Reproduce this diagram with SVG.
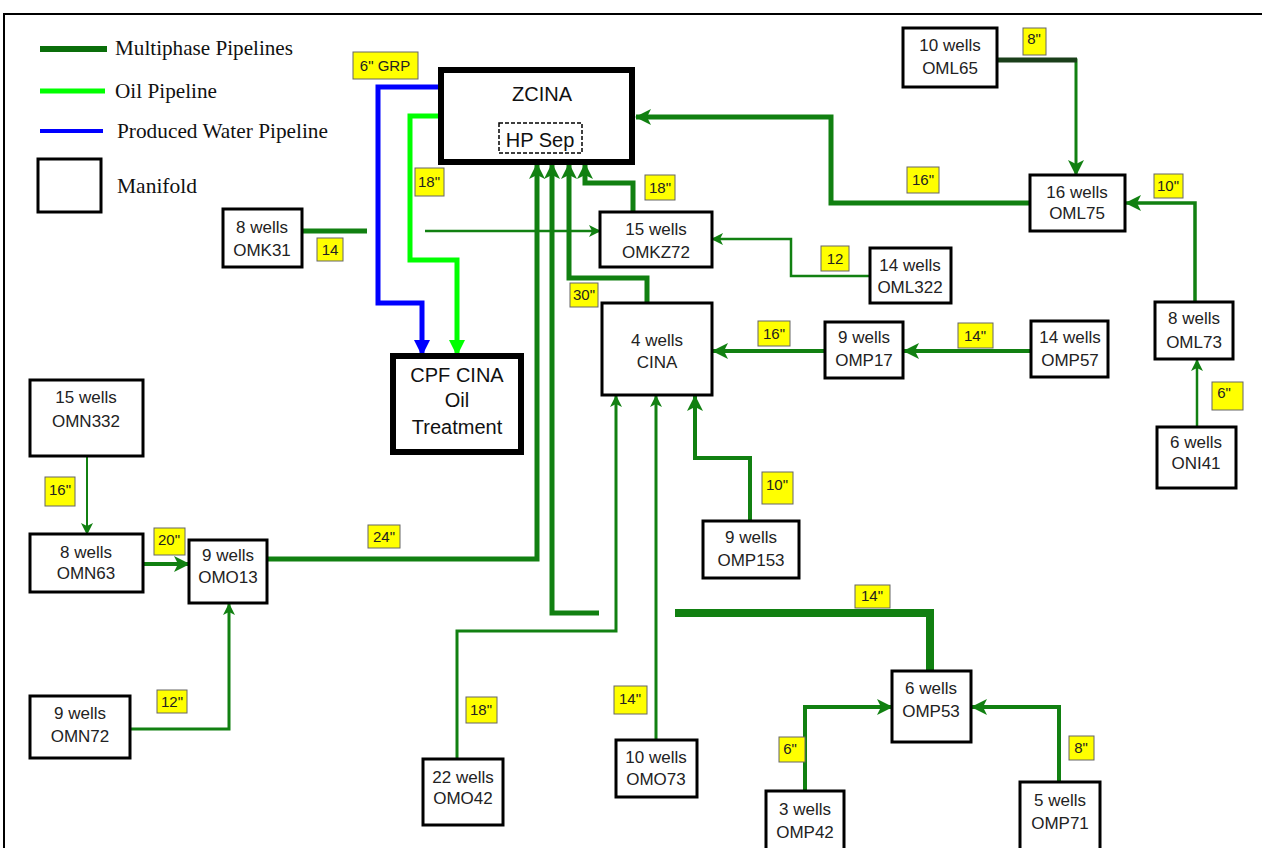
<svg xmlns="http://www.w3.org/2000/svg" width="1262" height="848" viewBox="0 0 1262 848">
<style>
.bg{fill:#fff}
.nb{fill:#fff;stroke:#000;stroke-width:3}
.big{fill:#fff;stroke:#000;stroke-width:6}
.nt{font-family:"Liberation Sans",Arial,sans-serif;font-size:17px;fill:#222;text-anchor:middle}
.bt{font-family:"Liberation Sans",Arial,sans-serif;font-size:20px;fill:#111;text-anchor:middle}
.lg{font-family:"Liberation Serif","Times New Roman",serif;font-size:21px;fill:#111}
.lb{fill:#ffff00;stroke:#666;stroke-width:1}
.lt{font-family:"Liberation Sans",Arial,sans-serif;font-size:15px;fill:#222;text-anchor:middle}
.g{fill:none;stroke:#118011;stroke-linejoin:miter}
</style>
<defs>
<marker id="ag" markerUnits="userSpaceOnUse" markerWidth="16" markerHeight="16" viewBox="0 0 16 16" refX="15" refY="8" orient="auto">
<path d="M0,0 L16,8 L0,16 L4,8 z" fill="#118011"/>
</marker>
<marker id="ags" markerUnits="userSpaceOnUse" markerWidth="12" markerHeight="12" viewBox="0 0 12 12" refX="11" refY="6" orient="auto">
<path d="M0,0 L12,6 L0,12 L3,6 z" fill="#118011"/>
</marker>
<marker id="ab" markerUnits="userSpaceOnUse" markerWidth="16" markerHeight="16" viewBox="0 0 16 16" refX="15" refY="8" orient="auto">
<path d="M0,0 L16,8 L0,16 z" fill="#0000ff"/>
</marker>
<marker id="al" markerUnits="userSpaceOnUse" markerWidth="16" markerHeight="16" viewBox="0 0 16 16" refX="15" refY="8" orient="auto">
<path d="M0,0 L16,8 L0,16 z" fill="#00ff00"/>
</marker>
</defs>
<rect class="bg" x="0" y="0" width="1262" height="848"/>
<path d="M4,848 V14 H1262" fill="none" stroke="#000" stroke-width="2"/>

<g id="legend">
<line x1="40" y1="49" x2="107" y2="49" stroke="#0a6e0a" stroke-width="6"/>
<text class="lg" x="115" y="55" textLength="178" lengthAdjust="spacingAndGlyphs">Multiphase Pipelines</text>
<line x1="40" y1="91" x2="105" y2="91" stroke="#00ff00" stroke-width="5"/>
<text class="lg" x="115" y="98" textLength="102" lengthAdjust="spacingAndGlyphs">Oil Pipeline</text>
<line x1="40" y1="131" x2="103" y2="131" stroke="#0000ff" stroke-width="4"/>
<text class="lg" x="117" y="138" textLength="211" lengthAdjust="spacingAndGlyphs">Produced Water Pipeline</text>
<rect x="38" y="159" width="63" height="53" fill="#fff" stroke="#000" stroke-width="3"/>
<text class="lg" x="117" y="193" textLength="80" lengthAdjust="spacingAndGlyphs">Manifold</text>
</g>

<g id="connectors">
<path d="M441,87 H378 V303 H422 V355" fill="none" stroke="#0000ff" stroke-width="5" marker-end="url(#ab)"/>
<path d="M441,116 H410 V260 H457 V355" fill="none" stroke="#00ff00" stroke-width="5" marker-end="url(#al)"/>
<path class="g" d="M302,231 H367" stroke="#0a6e0a" stroke-width="5"/>
<path class="g" d="M425,231 H600" stroke-width="2.5" marker-end="url(#ags)"/>
<path class="g" d="M870,276 H791 V239 H712" stroke-width="2.5" marker-end="url(#ags)"/>
<path class="g" d="M633,212 V183 H585 V164" stroke-width="5" marker-end="url(#ag)"/>
<path class="g" d="M647,303 V278 H569 V164" stroke-width="5" marker-end="url(#ag)"/>
<path class="g" d="M599,613 H552 V164" stroke-width="5" marker-end="url(#ag)"/>
<path class="g" d="M267,559 H537 V164" stroke-width="5" marker-end="url(#ag)"/>
<path class="g" d="M1030,203 H831 V117 H636" stroke-width="5" marker-end="url(#ag)"/>
<path class="g" d="M997,60 H1076 V175" stroke-width="3" marker-end="url(#ag)"/>
<path d="M997,60 H1077" fill="none" stroke="#1a3f1a" stroke-width="5"/>
<path class="g" d="M1195,302 V203 H1126" stroke-width="3.5" marker-end="url(#ag)"/>
<path class="g" d="M1197,427 V360" stroke-width="2.5" marker-end="url(#ags)"/>
<path class="g" d="M825,351 H713" stroke-width="4" marker-end="url(#ag)"/>
<path class="g" d="M1031,351 H904" stroke-width="4" marker-end="url(#ag)"/>
<path class="g" d="M750,521 V458 H695 V396" stroke-width="4" marker-end="url(#ag)"/>
<path class="g" d="M457,760 V631 H616 V396" stroke-width="3" marker-end="url(#ags)"/>
<path class="g" d="M656,740 V396" stroke-width="3" marker-end="url(#ags)"/>
<path class="g" d="M930,671 V613 H675" stroke-width="8"/>
<path class="g" d="M805,791 V707 H892" stroke-width="4" marker-end="url(#ag)"/>
<path class="g" d="M1059,782 V707 H972" stroke-width="4" marker-end="url(#ag)"/>
<path class="g" d="M87,456 V534" stroke-width="2" marker-end="url(#ags)"/>
<path class="g" d="M143,564 H189" stroke-width="4" marker-end="url(#ag)"/>
<path class="g" d="M130,729 H229 V604" stroke-width="3" marker-end="url(#ags)"/>
</g>

<g id="ZCINA">
<rect class="big" x="441" y="70" width="191" height="92"/>
<text class="bt" x="542" y="101" font-size="21">ZCINA</text>
<rect x="499" y="123" width="83" height="30" fill="none" stroke="#000" stroke-width="1.5" stroke-dasharray="4,2"/>
<text class="bt" x="540" y="147" font-size="21">HP Sep</text>
</g>
<g id="CPF">
<rect class="big" x="393" y="356" width="128" height="96"/>
<text class="bt" x="457" y="382">CPF CINA</text>
<text class="bt" x="457" y="407">Oil</text>
<text class="bt" x="457" y="434">Treatment</text>
</g>

<g id="OMK31"><rect class="nb" x="223" y="209" width="79" height="58"/><text class="nt" x="262" y="233">8 wells</text><text class="nt" x="262" y="256">OMK31</text></g>
<g id="OMKZ72"><rect class="nb" x="600" y="212" width="112" height="55"/><text class="nt" x="656" y="235">15 wells</text><text class="nt" x="656" y="258">OMKZ72</text></g>
<g id="OML65"><rect class="nb" x="903" y="28" width="94" height="59"/><text class="nt" x="950" y="51">10 wells</text><text class="nt" x="950" y="74">OML65</text></g>
<g id="OML75"><rect class="nb" x="1030" y="175" width="95" height="56"/><text class="nt" x="1077" y="198">16 wells</text><text class="nt" x="1077" y="219">OML75</text></g>
<g id="OML322"><rect class="nb" x="870" y="248" width="81" height="55"/><text class="nt" x="910" y="271">14 wells</text><text class="nt" x="910" y="293">OML322</text></g>
<g id="OML73"><rect class="nb" x="1155" y="302" width="78" height="57"/><text class="nt" x="1194" y="324">8 wells</text><text class="nt" x="1194" y="348">OML73</text></g>
<g id="ONI41"><rect class="nb" x="1157" y="427" width="79" height="61"/><text class="nt" x="1196" y="448">6 wells</text><text class="nt" x="1196" y="469">ONI41</text></g>
<g id="CINA"><rect class="nb" x="602" y="303" width="110" height="92"/><text class="nt" x="657" y="346">4 wells</text><text class="nt" x="657" y="368">CINA</text></g>
<g id="OMP17"><rect class="nb" x="825" y="322" width="78" height="56"/><text class="nt" x="864" y="343">9 wells</text><text class="nt" x="864" y="366">OMP17</text></g>
<g id="OMP57"><rect class="nb" x="1031" y="321" width="77" height="56"/><text class="nt" x="1070" y="343">14 wells</text><text class="nt" x="1070" y="366">OMP57</text></g>
<g id="OMP153"><rect class="nb" x="703" y="521" width="96" height="57"/><text class="nt" x="751" y="543">9 wells</text><text class="nt" x="751" y="566">OMP153</text></g>
<g id="OMN332"><rect class="nb" x="30" y="380" width="113" height="76"/><text class="nt" x="86" y="403">15 wells</text><text class="nt" x="86" y="427">OMN332</text></g>
<g id="OMN63"><rect class="nb" x="30" y="534" width="113" height="58"/><text class="nt" x="86" y="558">8 wells</text><text class="nt" x="86" y="579">OMN63</text></g>
<g id="OMO13"><rect class="nb" x="189" y="540" width="78" height="63"/><text class="nt" x="228" y="561">9 wells</text><text class="nt" x="228" y="583">OMO13</text></g>
<g id="OMN72"><rect class="nb" x="30" y="696" width="100" height="62"/><text class="nt" x="80" y="719">9 wells</text><text class="nt" x="80" y="742">OMN72</text></g>
<g id="OMO42"><rect class="nb" x="423" y="759" width="80" height="66"/><text class="nt" x="463" y="783">22 wells</text><text class="nt" x="463" y="804">OMO42</text></g>
<g id="OMO73"><rect class="nb" x="616" y="740" width="81" height="57"/><text class="nt" x="656" y="763">10 wells</text><text class="nt" x="656" y="785">OMO73</text></g>
<g id="OMP53"><rect class="nb" x="892" y="671" width="79" height="71"/><text class="nt" x="931" y="694">6 wells</text><text class="nt" x="931" y="717">OMP53</text></g>
<g id="OMP42"><rect class="nb" x="766" y="791" width="78" height="62"/><text class="nt" x="805" y="815">3 wells</text><text class="nt" x="805" y="838">OMP42</text></g>
<g id="OMP71"><rect class="nb" x="1020" y="782" width="80" height="70"/><text class="nt" x="1060" y="806">5 wells</text><text class="nt" x="1060" y="829">OMP71</text></g>

<g id="labels">
<rect class="lb" x="353" y="52" width="65" height="27"/><text class="lt" x="385" y="71">6" GRP</text>
<rect class="lb" x="415" y="168" width="29" height="28"/><text class="lt" x="429" y="187">18"</text>
<rect class="lb" x="317" y="238" width="26" height="23"/><text class="lt" x="330" y="255">14</text>
<rect class="lb" x="645" y="175" width="30" height="25"/><text class="lt" x="660" y="193">18"</text>
<rect class="lb" x="570" y="283" width="28" height="24"/><text class="lt" x="584" y="300">30"</text>
<rect class="lb" x="821" y="246" width="28" height="25"/><text class="lt" x="835" y="264">12</text>
<rect class="lb" x="907" y="167" width="32" height="26"/><text class="lt" x="923" y="185">16"</text>
<rect class="lb" x="1023" y="28" width="23" height="27"/><text class="lt" x="1034" y="44">8"</text>
<rect class="lb" x="1154" y="174" width="29" height="24"/><text class="lt" x="1168" y="191">10"</text>
<rect class="lb" x="1212" y="382" width="31" height="28"/><text class="lt" x="1224" y="398">6"</text>
<rect class="lb" x="758" y="321" width="32" height="25"/><text class="lt" x="774" y="339">16"</text>
<rect class="lb" x="958" y="323" width="35" height="25"/><text class="lt" x="975" y="341">14"</text>
<rect class="lb" x="762" y="472" width="31" height="32"/><text class="lt" x="777" y="490">10"</text>
<rect class="lb" x="45" y="477" width="30" height="29"/><text class="lt" x="60" y="495">16"</text>
<rect class="lb" x="154" y="528" width="31" height="27"/><text class="lt" x="169" y="545">20"</text>
<rect class="lb" x="368" y="525" width="32" height="23"/><text class="lt" x="384" y="542">24"</text>
<rect class="lb" x="157" y="690" width="30" height="23"/><text class="lt" x="172" y="707">12"</text>
<rect class="lb" x="466" y="697" width="31" height="26"/><text class="lt" x="481" y="715">18"</text>
<rect class="lb" x="614" y="686" width="33" height="28"/><text class="lt" x="630" y="704">14"</text>
<rect class="lb" x="855" y="585" width="35" height="23"/><text class="lt" x="872" y="601">14"</text>
<rect class="lb" x="779" y="737" width="26" height="25"/><text class="lt" x="790" y="754">6"</text>
<rect class="lb" x="1069" y="736" width="25" height="24"/><text class="lt" x="1081" y="753">8"</text>
</g>
</svg>
